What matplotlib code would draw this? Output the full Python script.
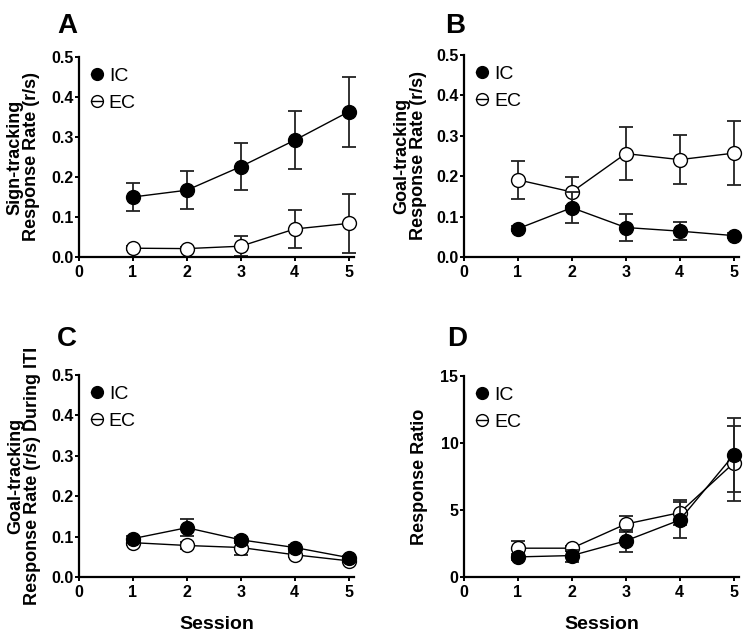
import matplotlib
matplotlib.use("Agg")
import matplotlib.pyplot as plt
from matplotlib import font_manager
from matplotlib.lines import Line2D

sessions = [1, 2, 3, 4, 5]
xticks = [0, 1, 2, 3, 4, 5]

A_ic = [0.150, 0.167, 0.226, 0.292, 0.363]
A_ic_err = [0.036, 0.047, 0.059, 0.073, 0.088]
A_ec = [0.022, 0.021, 0.027, 0.070, 0.084]
A_ec_err = [0.005, 0.004, 0.025, 0.047, 0.074]

B_ic = [0.070, 0.122, 0.073, 0.064, 0.053]
B_ic_err = [0.006, 0.038, 0.034, 0.022, 0.006]
B_ec = [0.191, 0.161, 0.256, 0.241, 0.257]
B_ec_err = [0.047, 0.036, 0.065, 0.061, 0.080]

C_ic = [0.095, 0.122, 0.092, 0.073, 0.048]
C_ic_err = [0.006, 0.021, 0.008, 0.006, 0.005]
C_ec = [0.085, 0.078, 0.073, 0.055, 0.040]
C_ec_err = [0.005, 0.008, 0.018, 0.006, 0.004]

D_ic = [1.5, 1.6, 2.7, 4.25, 9.1]
D_ic_err = [0.2, 0.45, 0.8, 1.35, 2.75]
D_ec = [2.15, 2.15, 3.95, 4.8, 8.5]
D_ec_err = [0.5, 0.2, 0.6, 0.95, 2.8]

rate_ticks = [0.0, 0.1, 0.2, 0.3, 0.4, 0.5]
rate_ticklabels = ["0.0", "0.1", "0.2", "0.3", "0.4", "0.5"]
ratio_ticks = [0, 5, 10, 15]
ratio_ticklabels = ["0", "5", "10", "15"]

names = {f.name for f in font_manager.fontManager.ttflist}
BASE = "Liberation Sans" if "Liberation Sans" in names else "DejaVu Sans"
NARROW = "Liberation Sans Narrow" if "Liberation Sans Narrow" in names else BASE
plt.rcParams['font.family'] = [BASE, 'DejaVu Sans']

W, H = 750, 634
fig = plt.figure(figsize=(7.5, 6.34), dpi=100)

def px_axes(left, top, right, bottom):
    return fig.add_axes([left / W, 1 - bottom / H, (right - left) / W, (bottom - top) / H])

panels = [
    dict(rect=(79, 57, 354, 257), ic=A_ic, ice=A_ic_err, ec=A_ec, ece=A_ec_err,
         ylim=(0, 0.5), yt=rate_ticks, ytl=rate_ticklabels,
         ylabel="Sign-tracking\nResponse Rate (r/s)", lab_off=56, letter="A",
         lpos=(57, 33), xlabel=False),
    dict(rect=(464, 55, 739, 257), ic=B_ic, ice=B_ic_err, ec=B_ec, ece=B_ec_err,
         ylim=(0, 0.5), yt=rate_ticks, ytl=rate_ticklabels,
         ylabel="Goal-tracking\nResponse Rate (r/s)", lab_off=54, letter="B",
         lpos=(445, 33), xlabel=False),
    dict(rect=(79, 375, 354, 577), ic=C_ic, ice=C_ic_err, ec=C_ec, ece=C_ec_err,
         ylim=(0, 0.5), yt=rate_ticks, ytl=rate_ticklabels,
         ylabel="Goal-tracking\nResponse Rate (r/s) During ITI", lab_off=55, letter="C",
         lpos=(57, 346), xlabel=True),
    dict(rect=(464, 376, 739, 577), ic=D_ic, ice=D_ic_err, ec=D_ec, ece=D_ec_err,
         ylim=(0, 15), yt=ratio_ticks, ytl=ratio_ticklabels,
         ylabel="Response Ratio", lab_off=45, letter="D",
         lpos=(447, 346), xlabel=True),
]

for p in panels:
    ax = px_axes(*p["rect"])
    width_px = p["rect"][2] - p["rect"][0]
    ax.errorbar(sessions, p["ec"], yerr=p["ece"], fmt='none', ecolor='#222222',
                elinewidth=1.3, capsize=5, capthick=1.3, zorder=2, clip_on=False)
    ax.plot(sessions, p["ec"], color='black', lw=1.0, marker='o', ms=10,
            mfc='white', mec='black', mew=1.0, zorder=3, clip_on=False)
    ax.errorbar(sessions, p["ic"], yerr=p["ice"], fmt='none', ecolor='#222222',
                elinewidth=1.3, capsize=5, capthick=1.3, zorder=4, clip_on=False)
    ax.plot(sessions, p["ic"], color='black', lw=1.0, marker='o', ms=10,
            mfc='black', mec='black', mew=1.0, zorder=5, clip_on=False)

    ax.set_xlim(0, 5.1)
    ax.set_ylim(*p["ylim"])
    ax.set_xticks(xticks)
    ax.set_xticklabels([str(t) for t in xticks])
    ax.set_yticks(p["yt"])
    ax.set_yticklabels(p["ytl"])
    for s in ("top", "right"):
        ax.spines[s].set_visible(False)
    for s in ("left", "bottom"):
        ax.spines[s].set_linewidth(1.6)
    ax.tick_params(axis='both', direction='out', length=3, width=1.4,
                   labelsize=11.5)
    ax.tick_params(axis='y', pad=1)
    ax.tick_params(axis='x', pad=2.5)
    for lab in ax.get_xticklabels() + ax.get_yticklabels():
        lab.set_fontweight('bold')

    ax.set_ylabel(p["ylabel"], fontsize=13, fontweight='bold', linespacing=1.0,
                  va='center')
    ax.yaxis.set_label_coords(-p["lab_off"] / width_px, 0.5)
    if p["xlabel"]:
        ax.set_xlabel("Session", fontsize=14, fontweight='bold', labelpad=12)

    handles = [
        Line2D([], [], color='black', lw=1.0, marker='o', ms=10, mfc='black',
               mec='black', mew=1.0),
        Line2D([], [], color='black', lw=1.0, marker='o', ms=10, mfc='none',
               mec='black', mew=1.0),
    ]
    ax.legend(handles, ['IC', 'EC'], loc='upper left', bbox_to_anchor=(0.045, 0.95),
              frameon=False, borderpad=0, borderaxespad=0, handlelength=0.55,
              handletextpad=0.35, labelspacing=0.5, markerscale=0.85,
              prop={'family': [NARROW, BASE], 'size': 14})

    fig.text(p["lpos"][0] / W, 1 - p["lpos"][1] / H, p["letter"], fontsize=20,
             fontweight='bold', ha='left', va='baseline')

fig.savefig("out.png", dpi=100)
